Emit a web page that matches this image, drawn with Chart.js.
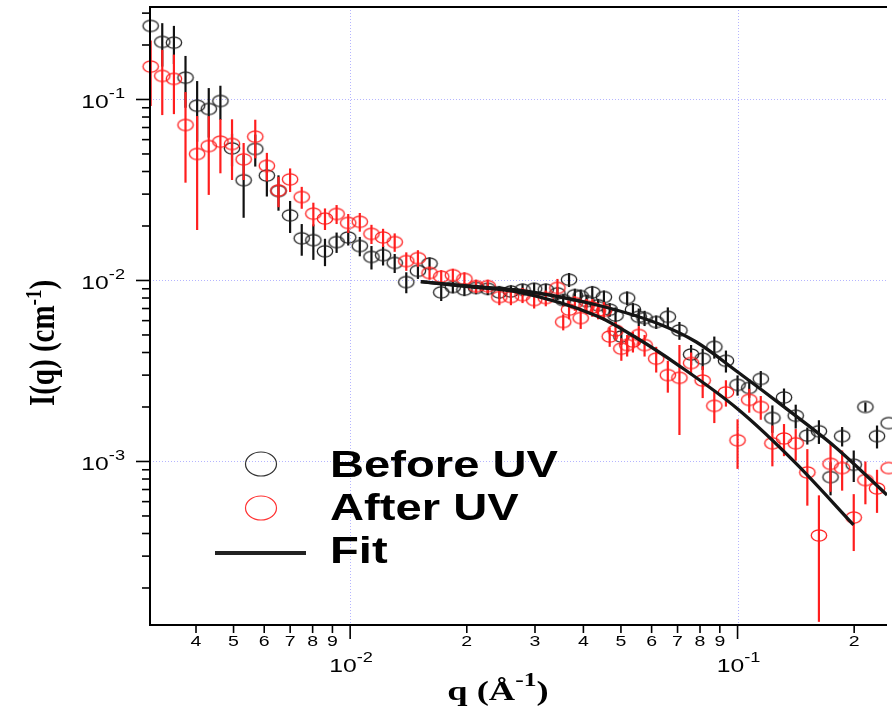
<!DOCTYPE html>
<html><head><meta charset="utf-8">
<script src="https://cdn.jsdelivr.net/npm/chart.js@4/dist/chart.umd.min.js"></script>
<style>html,body{margin:0;padding:0;background:#fff;}canvas{display:block;}</style>
</head><body>
<canvas id="c" width="892" height="710"></canvas>
<script>
// ---- data ----
const qLow = [0.003055,0.003273,0.003508,0.003758,0.004027,0.004315,0.004624,0.004955,0.005309,0.005689,
  0.006095,0.006531,0.006998,0.007499,0.008035,0.00861,0.009226,0.009886,0.01059,0.01135,
  0.01216,0.01303,0.01396,0.01496,0.01603,0.01718,0.01841,0.01972,0.02113,0.02265,
  0.02427,0.02600,0.02786,0.02985,0.03199,0.03428,0.03673,0.03936,0.04217,0.04519,
  0.04842,0.05188,0.05559];
const beforeLow = [0.255,0.208,0.206,0.132,0.0924,0.0886,0.0981,0.0537,0.0358,0.0533,
  0.0380,0.0312,0.0229,0.0171,0.0167,0.0145,0.0163,0.0173,0.0155,0.0135,
  0.0138,0.0125,0.0098,0.0113,0.0124,0.0086,0.0092,0.0089,0.0091,0.0090,
  0.0086,0.0087,0.0089,0.0090,0.0089,0.0085,0.0101,0.0082,0.0086,0.0081,
  0.0064,0.0080,0.0063];
const beforeLowErr = [0,0.056,0.049,0.042,0.034,0.027,0.021,0.011,0.0136,0.0107,
  0.0089,0.0069,0.0046,0.0034,0.0037,0.0025,0.0021,0.0017,0.0019,0.0020,
  0.0017,0.0015,0.0013,0.0011,0.0010,0.0009,0.0007,0.0007,0.0007,0.0007,
  0.0007,0.0007,0.0007,0.0007,0.0007,0.0007,0.0009,0.0007,0.0007,0.0007,
  0.0007,0.0007,0.0007];
const afterLow = [0.152,0.135,0.130,0.0723,0.0500,0.0553,0.0585,0.0568,0.0467,0.0623,
  0.0430,0.0314,0.0362,0.0289,0.0234,0.0220,0.0233,0.0208,0.0211,0.0181,
  0.0173,0.0163,0.0128,0.0133,0.0110,0.0105,0.0107,0.0102,0.0093,0.0093,
  0.0081,0.0081,0.0083,0.0078,0.0080,0.0091,0.0069,0.0062,0.0071,0.0068,
  0.0053,0.0044,0.0050];
const afterLowErr = [0.060,0.053,0.047,0.0376,0.031,0.0256,0.0194,0.0209,0.0108,0.015,
  0.0077,0.0060,0.0054,0.0040,0.0035,0.0030,0.0028,0.0025,0.0025,0.0022,
  0.0020,0.0019,0.0015,0.0014,0.0009,0.0009,0.0009,0.0009,0.0008,0.0008,
  0.0008,0.0008,0.0008,0.0008,0.0008,0.0011,0.0008,0.0008,0.0008,0.0008,
  0.0006,0.0006,0.0006];
const qHigh = [0.03548,0.03802,0.04074,0.04365,0.04677,0.05012,0.05370,0.05754,0.06166,0.06607,
  0.07079,0.07586,0.08128,0.08710,0.09333,0.1000,0.1072,0.1148,0.1230,0.1318,
  0.1413,0.1514,0.1622,0.1738,0.1862,0.1995,0.2138,0.2291,0.2455];
const beforeHigh = [0.0078,0.0083,0.0077,0.0073,0.0069,0.0049,0.0069,0.0062,0.0059,0.0063,
  0.0053,0.0039,0.0037,0.0043,0.0036,0.00265,0.00255,0.00286,0.00174,0.00226,
  0.00179,0.00139,0.00147,0.00082,0.00138,0.00096,0.00200,0.00138,0.00163];
const beforeHighErr = [0.0006,0.0007,0.0006,0.0006,0.0006,0.0005,0.0006,0.0006,0.0005,0.0008,
  0.0006,0.0005,0.0005,0.0006,0.0005,0.00034,0.0003,0.0003,0.0003,0.00027,
  0.00027,0.00015,0.00022,0.00017,0.00017,0.00019,0.00012,0.0002,0.0002];
const afterHigh = [0.0059,0.0075,0.0072,0.0068,0.0049,0.0042,0.0046,0.0044,0.0037,0.0030,
  0.0029,0.0035,0.0028,0.00203,0.00241,0.00131,0.00219,0.00200,0.00126,0.00134,
  0.00126,0.00087,0.00039,0.00097,0.00092,0.00049,0.00079,0.00071,0.00092];
const afterHighErr = [0.0006,0.0007,0.0007,0.0007,0.0006,0.0006,0.0006,0.0006,0.0006,0.0006,
  0.0015,0.0005,0.00056,0.0004,0.0004,0.0004,0.00033,0.0003,0.00032,0.00027,
  0.00025,0.0003,0.00026,0.00029,0.00023,0.00017,0.00021,0.00019,0.00018];
const fitBeforeQ = [0.01522,0.0201,0.0270,0.04337,0.0618,0.07826,0.1001,0.1331,0.1789,0.2431];
const fitBeforeI = [0.00985,0.00932,0.00886,0.00732,0.00582,0.00457,0.00312,0.00197,0.00120,0.000653];
const fitAfterQ = [0.01522,0.0201,0.0270,0.04337,0.05491,0.07026,0.1001,0.1413,0.1993];
const fitAfterI = [0.00985,0.00925,0.00865,0.00636,0.00481,0.00341,0.00195,0.00098,0.000446];

const seriesNames = ['Before UV','After UV','Fit'];
const xRange = [0.003043, 0.2431];
const yRange = [0.0001249, 0.3243];
const xMinorTicks = [0.004,0.005,0.006,0.007,0.008,0.009,0.02,0.03,0.04,0.05,0.06,0.07,0.08,0.09,0.2];
const xMinorLabels = ['4','5','6','7','8','9','2','3','4','5','6','7','8','9','2'];
const xMajorTicks = [0.01, 0.1];
const xMajorExp = ['-2','-1'];
const yMajorTicks = [0.1, 0.01, 0.001];
const yMajorExp = ['-1','-2','-3'];
const yMinorTicks = [0.3,0.2,0.09,0.08,0.07,0.06,0.05,0.04,0.03,0.02,
  0.009,0.008,0.007,0.006,0.005,0.004,0.003,0.002,
  0.0009,0.0008,0.0007,0.0006,0.0005,0.0004,0.0003,0.0002];

// ---- styling ----
const BLACK = '#222', RED = '#ff1e1e';
const SX = 1.3;
const SANS = '"Liberation Sans", Arial, sans-serif';
const SERIF = '"Liberation Serif", "Times New Roman", serif';

function ellipseImg(color) {
  const c = document.createElement('canvas');
  c.width = 20; c.height = 15;
  const g = c.getContext('2d');
  g.strokeStyle = color; g.lineWidth = 1.3;
  g.beginPath(); g.ellipse(10, 7.5, 7.7, 5.6, 0, 0, Math.PI * 2); g.stroke();
  return c;
}

function pts(qs, is) { return qs.map((q, i) => ({x: q, y: is[i]})); }

const beforeData = pts(qLow, beforeLow).concat(pts(qHigh, beforeHigh));
const beforeErr = beforeLowErr.concat(beforeHighErr);
const afterData = pts(qLow, afterLow).concat(pts(qHigh, afterHigh));
const afterErr = afterLowErr.concat(afterHighErr);

function txt(ctx, s, x, y, font, align, sx) {
  ctx.save(); ctx.font = font; ctx.translate(x, y); ctx.scale(sx || SX, 1);
  ctx.textAlign = align || 'left'; ctx.textBaseline = 'alphabetic';
  ctx.fillStyle = '#000'; ctx.fillText(s, 0, 0); ctx.restore();
}
function tw(ctx, s, font, sx) { ctx.save(); ctx.font = font; const w = ctx.measureText(s).width * (sx || SX); ctx.restore(); return w; }

const errorBars = {
  id: 'errorBars',
  beforeDatasetDraw(chart, args) {
    const ds = chart.data.datasets[args.index];
    if (!ds.errors) return;
    const ctx = chart.ctx, xs = chart.scales.x, ys = chart.scales.y, ca = chart.chartArea;
    ctx.save();
    ctx.beginPath(); ctx.rect(ca.left, ca.top, ca.right - ca.left, ca.bottom - ca.top); ctx.clip();
    ctx.strokeStyle = ds.barColor; ctx.lineWidth = 2.2;
    ds.data.forEach((p, i) => {
      const e = ds.errors[i]; if (!e) return;
      const px = xs.getPixelForValue(p.x);
      const lo = Math.max(p.y - e, ys.min);
      ctx.beginPath();
      ctx.moveTo(px, ys.getPixelForValue(p.y + e));
      ctx.lineTo(px, ys.getPixelForValue(lo));
      ctx.stroke();
    });
    ctx.restore();
  }
};

const axesDecor = {
  id: 'axesDecor',
  beforeDatasetsDraw(chart) {
    const ctx = chart.ctx, xs = chart.scales.x, ys = chart.scales.y, ca = chart.chartArea;
    ctx.save();
    ctx.strokeStyle = 'rgba(150,150,255,0.7)'; ctx.lineWidth = 1; ctx.setLineDash([1, 2]);
    xMajorTicks.forEach(v => { const p = Math.round(xs.getPixelForValue(v)) + 0.5;
      ctx.beginPath(); ctx.moveTo(p, ca.top); ctx.lineTo(p, ca.bottom); ctx.stroke(); });
    yMajorTicks.forEach(v => { const p = Math.round(ys.getPixelForValue(v)) + 0.5;
      ctx.beginPath(); ctx.moveTo(ca.left, p); ctx.lineTo(ca.right, p); ctx.stroke(); });
    ctx.restore();
  },
  afterDatasetsDraw(chart) {
    const ctx = chart.ctx, xs = chart.scales.x, ys = chart.scales.y, ca = chart.chartArea;
    ctx.save();
    ctx.strokeStyle = '#000'; ctx.lineWidth = 2;
    ctx.beginPath();
    ctx.moveTo(ca.right, ca.top); ctx.lineTo(ca.left, ca.top); ctx.lineTo(ca.left, ca.bottom); ctx.lineTo(ca.right, ca.bottom);
    ctx.stroke();
    ctx.lineWidth = 1.6;
    yMinorTicks.forEach(v => { const p = ys.getPixelForValue(v);
      ctx.beginPath(); ctx.moveTo(ca.left - 8, p); ctx.lineTo(ca.left, p); ctx.stroke(); });
    yMajorTicks.forEach(v => { const p = ys.getPixelForValue(v);
      ctx.beginPath(); ctx.moveTo(ca.left - 14, p); ctx.lineTo(ca.left, p); ctx.stroke(); });
    xMinorTicks.forEach(v => { const p = xs.getPixelForValue(v);
      ctx.beginPath(); ctx.moveTo(p, ca.bottom); ctx.lineTo(p, ca.bottom + 8); ctx.stroke(); });
    xMajorTicks.forEach(v => { const p = xs.getPixelForValue(v);
      ctx.beginPath(); ctx.moveTo(p, ca.bottom); ctx.lineTo(p, ca.bottom + 14); ctx.stroke(); });
    ctx.restore();

    const fBig = '19px ' + SANS, fSup = '14px ' + SANS, fMinor = '15px ' + SANS;
    yMajorTicks.forEach((v, i) => {
      const p = ys.getPixelForValue(v);
      const wS = tw(ctx, yMajorExp[i], fSup), wB = tw(ctx, '10', fBig);
      const right = 125;
      txt(ctx, '10', right - wS - wB, p + 9, fBig);
      txt(ctx, yMajorExp[i], right - wS, p - 1, fSup);
    });
    xMinorTicks.forEach((v, i) => {
      txt(ctx, xMinorLabels[i], xs.getPixelForValue(v), ca.bottom + 21, fMinor, 'center');
    });
    xMajorTicks.forEach((v, i) => {
      const p = xs.getPixelForValue(v);
      const wB = tw(ctx, '10', fBig), wS = tw(ctx, xMajorExp[i], fSup);
      const start = p - (wB + wS) / 2 + 1;
      txt(ctx, '10', start, ca.bottom + 47, fBig);
      txt(ctx, xMajorExp[i], start + wB, ca.bottom + 37, fSup);
    });

    {
      const fT = 'bold 27px ' + SERIF, fTs = 'bold 19px ' + SERIF, sx = 1.35;
      const a = 'q (Å', b = '-1', c = ')';
      const wa = tw(ctx, a, fT, sx), wb = tw(ctx, b, fTs, sx), wc = tw(ctx, c, fT, sx);
      let x0 = 498 - (wa + wb + wc) / 2;
      const base = 700;
      txt(ctx, a, x0, base, fT, 'left', sx);
      txt(ctx, b, x0 + wa, base - 14, fTs, 'left', sx);
      txt(ctx, c, x0 + wa + wb, base, fT, 'left', sx);
    }
    {
      const fT = 'bold 29px ' + SERIF, fTs = 'bold 19px ' + SERIF;
      const a = 'I(q) (cm', b = '-1', c = ')';
      ctx.save();
      ctx.font = fT; const wa = ctx.measureText(a).width, wc = ctx.measureText(c).width;
      ctx.font = fTs; const wb = ctx.measureText(b).width;
      ctx.translate(54, 343);
      ctx.rotate(-Math.PI / 2);
      ctx.scale(1, 1.22);
      ctx.fillStyle = '#000'; ctx.textBaseline = 'alphabetic'; ctx.textAlign = 'left';
      let u = -(wa + wb + wc) / 2;
      ctx.font = fT; ctx.fillText(a, u, 0); u += wa;
      ctx.font = fTs; ctx.fillText(b, u, -11); u += wb;
      ctx.font = fT; ctx.fillText(c, u, 0);
      ctx.restore();
    }

    {
      const fL = 'bold 36px ' + SANS;
      ctx.save();
      ctx.lineWidth = 1.2;
      ctx.strokeStyle = '#333';
      ctx.beginPath(); ctx.ellipse(261, 464, 15.5, 12, 0, 0, Math.PI * 2); ctx.stroke();
      ctx.strokeStyle = '#ff3333';
      ctx.beginPath(); ctx.ellipse(261, 508, 15.5, 12, 0, 0, Math.PI * 2); ctx.stroke();
      ctx.strokeStyle = '#222'; ctx.lineWidth = 4;
      ctx.beginPath(); ctx.moveTo(215, 553); ctx.lineTo(306, 553); ctx.stroke();
      ctx.restore();
      txt(ctx, seriesNames[0], 330, 477, fL, 'left', 1.31);
      txt(ctx, seriesNames[1], 330, 520, fL, 'left', 1.31);
      txt(ctx, seriesNames[2], 330, 563, fL, 'left', 1.31);
    }
  }
};

new Chart(document.getElementById('c'), {
  type: 'scatter',
  data: {
    datasets: [
      { label: seriesNames[2] + ' before', type: 'line', data: pts(fitBeforeQ, fitBeforeI),
        borderColor: '#151515', borderWidth: 3.3, pointRadius: 0, fill: false,
        cubicInterpolationMode: 'monotone', order: 0 },
      { label: seriesNames[2] + ' after', type: 'line', data: pts(fitAfterQ, fitAfterI),
        borderColor: '#151515', borderWidth: 3.3, pointRadius: 0, fill: false,
        cubicInterpolationMode: 'monotone', order: 0 },
      { label: seriesNames[1], data: afterData, errors: afterErr, barColor: RED,
        pointStyle: ellipseImg(RED), clip: false, order: 1 },
      { label: seriesNames[0], data: beforeData, errors: beforeErr, barColor: '#111',
        pointStyle: ellipseImg(BLACK), clip: false, order: 2 }
    ]
  },
  options: {
    responsive: false, animation: false, devicePixelRatio: 1,
    layout: { padding: { left: 150, top: 7, right: 0, bottom: 85 } },
    scales: {
      x: { type: 'logarithmic', min: xRange[0], max: xRange[1], bounds: 'data', display: false },
      y: { type: 'logarithmic', min: yRange[0], max: yRange[1], bounds: 'data', display: false }
    },
    plugins: { legend: { display: false }, tooltip: { enabled: false } }
  },
  plugins: [errorBars, axesDecor]
});
</script>
</body></html>
